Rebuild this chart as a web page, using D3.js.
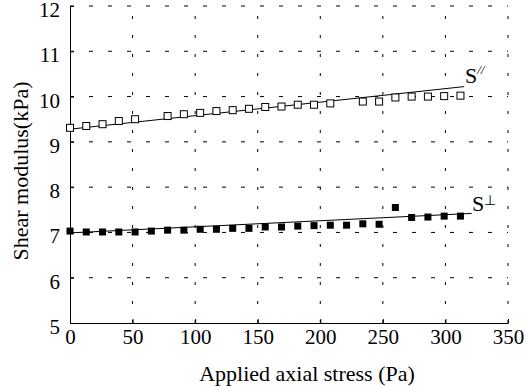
<!DOCTYPE html>
<html>
<head>
<meta charset="UTF-8">
<script src="https://d3js.org/d3.v7.min.js"></script>
<style>
  body { margin: 0; background: #fff; }
</style>
</head>
<body>
<div id="chart"></div>
<script>
// applied axial stress (Pa)
var stressPar = [0, 13, 26, 39, 52, 78, 91, 104, 117, 130, 143, 156, 169, 182, 195, 208, 234, 247, 260, 273, 286, 299, 312]
var shearPar = [9.31, 9.35, 9.39, 9.46, 9.50, 9.57, 9.61, 9.64, 9.68, 9.70, 9.73, 9.77, 9.78, 9.82, 9.82, 9.85, 9.89, 9.89, 9.98, 10.0, 10.0, 10.01, 10.02]

var stressPerp = [0, 13, 26, 39, 52, 65, 78, 91, 104, 117, 130, 143, 156, 169, 182, 195, 208, 221, 234, 247, 260, 273, 286, 299, 312]
var shearPerp = [7.03, 7.01, 7.01, 7.01, 7.01, 7.03, 7.05, 7.05, 7.07, 7.07, 7.09, 7.09, 7.12, 7.12, 7.14, 7.15, 7.16, 7.16, 7.19, 7.18, 7.55, 7.33, 7.34, 7.36, 7.36]

// fitted straight lines (end points)
var fitPar = [[0, 9.28], [315, 10.22]]
var fitPerp = [[0, 6.99], [321, 7.42]]

var xTicks = [0, 50, 100, 150, 200, 250, 300, 350]
var yTicks = [5, 6, 7, 8, 9, 10, 11, 12]

var width = 526, height = 387
var margin = {top: 6, right: 18, bottom: 64, left: 70}
var serif = "'Liberation Serif', 'Times New Roman', Times, serif"

var svg = d3.select("#chart").append("svg")
    .attr("width", width)
    .attr("height", height)
    .style("font-family", serif)

var x = d3.scaleLinear().domain([0, 350]).range([margin.left, width - margin.right])
var y = d3.scaleLinear().domain([5, 12]).range([height - margin.bottom, margin.top])

// grid (dashed)
svg.append("g").selectAll("line")
    .data(xTicks.slice(1)).enter().append("line")
    .attr("x1", d => x(d)).attr("x2", d => x(d))
    .attr("y1", y(5)).attr("y2", y(12))
    .attr("stroke", "#000").attr("stroke-width", 1)
    .attr("stroke-dasharray", "3,16")
svg.append("g").selectAll("line")
    .data(yTicks.slice(1)).enter().append("line")
    .attr("x1", x(0)).attr("x2", x(350))
    .attr("y1", d => y(d)).attr("y2", d => y(d))
    .attr("stroke", "#000").attr("stroke-width", 1)
    .attr("stroke-dasharray", "4,15")

// axes
var xAxis = d3.axisBottom(x).tickValues(xTicks).tickFormat(d3.format("d"))
    .tickSizeInner(-4).tickSizeOuter(0).tickPadding(6)
var yAxis = d3.axisLeft(y).tickValues(yTicks).tickFormat(d3.format("d"))
    .tickSizeInner(-4).tickSizeOuter(0).tickPadding(10)

svg.append("g")
    .attr("transform", "translate(0," + y(5) + ")")
    .call(xAxis)
    .attr("font-family", serif).attr("font-size", 21)
svg.append("g")
    .attr("transform", "translate(" + x(0) + ",0)")
    .call(yAxis)
    .attr("font-family", serif).attr("font-size", 21)
    .call(g => g.selectAll("text").attr("dy", "0.5em"))

// fitted lines
var line = d3.line().x(d => x(d[0])).y(d => y(d[1]))
svg.append("path").datum(fitPar).attr("d", line)
    .attr("fill", "none").attr("stroke", "#000").attr("stroke-width", 1)
svg.append("path").datum(fitPerp).attr("d", line)
    .attr("fill", "none").attr("stroke", "#000").attr("stroke-width", 1)

// open squares S//
var s = 7
svg.append("g").selectAll("rect")
    .data(d3.zip(stressPar, shearPar)).enter().append("rect")
    .attr("x", d => x(d[0]) - s / 2).attr("y", d => y(d[1]) - s / 2)
    .attr("width", s).attr("height", s)
    .attr("fill", "#fff").attr("stroke", "#000").attr("stroke-width", 1)

// filled squares S⊥
svg.append("g").selectAll("rect")
    .data(d3.zip(stressPerp, shearPerp)).enter().append("rect")
    .attr("x", d => x(d[0]) - s / 2).attr("y", d => y(d[1]) - s / 2)
    .attr("width", s).attr("height", s)
    .attr("fill", "#000")

// series labels
var lab1 = svg.append("text").attr("x", 465).attr("y", 83).attr("font-size", 22)
lab1.append("tspan").text("S")
lab1.append("tspan").attr("dy", -9).attr("font-size", 13).attr("font-style", "italic").text("//")
var lab2 = svg.append("text").attr("x", 472).attr("y", 211).attr("font-size", 22)
lab2.append("tspan").text("S")
lab2.append("tspan").attr("dy", -6).attr("font-size", 14).text("⊥")

// axis titles
svg.append("text")
    .attr("x", 307).attr("y", 381)
    .attr("text-anchor", "middle").attr("font-size", 22)
    .text("Applied axial stress (Pa)")
svg.append("text")
    .attr("transform", "translate(28,171) rotate(-90)")
    .attr("text-anchor", "middle").attr("font-size", 22)
    .text("Shear modulus(kPa)")
</script>
</body>
</html>
